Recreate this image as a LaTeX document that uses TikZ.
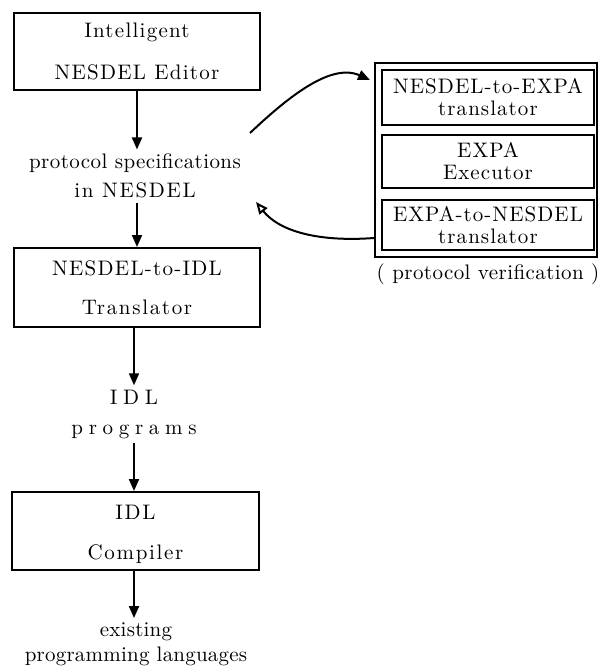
\documentclass[tikz,border=0pt]{standalone}
\usepackage{fontspec}
\setmainfont{lmroman10-regular.otf}
\usetikzlibrary{arrows.meta}
\newcommand\labfont[1]{\fontspec{lmroman10-regular.otf}[LetterSpace=#1]\fontsize{10.5}{13}\selectfont}
\begin{document}
\begin{tikzpicture}[x=0.5pt,y=-0.5pt,
  box/.style={draw, line width=1pt, inner sep=0pt, align=center},
  lab/.style={align=center, inner sep=2pt},
  arr/.style={line width=1pt, -{Triangle[length=6pt,width=5pt]}},
  oarr/.style={line width=1pt, -{Triangle[open,length=6pt,width=5pt]}},
]
\useasboundingbox (0,0) rectangle (598,666);

% left column
\node[box, minimum width=123pt, minimum height=38.5pt, font=\labfont{6}] (ed) at (137,51.5)
  {Intelligent\\[8pt]NESDEL Editor};
\node[lab, font=\labfont{2}] (spec) at (135,176)
  {protocol specifications\\[1.5pt]{\labfont{8}in NESDEL}};
\node[box, minimum width=123pt, minimum height=39.5pt, font=\labfont{8}] (tr) at (137,287.5)
  {{\labfont{6}NESDEL-to-IDL}\\[6.5pt]Translator};
\node[lab, font=\labfont{27}] (idl) at (134,414)
  {IDL\\[2pt]programs};
\node[box, minimum width=123.5pt, minimum height=39pt, font=\labfont{8}] (cp) at (135.5,531)
  {\mbox{}\\[-2pt]IDL\\[7pt]Compiler};
\node[lab, font=\labfont{1}] (ex) at (136,644)
  {existing\\[-0.5pt]programming languages};

% right group
\node[box, minimum width=111pt, minimum height=97pt] (ver) at (486,160) {};
\node[box, minimum width=106pt, minimum height=27.5pt, font={\labfont{5}\baselineskip=11pt}] (n2e) at (488,97.5)
  {NESDEL-to-EXPA\\translator};
\node[box, minimum width=106pt, minimum height=26.5pt, font={\labfont{5}\baselineskip=11pt}] (exe) at (488,161.5)
  {EXPA\\Executor};
\node[box, minimum width=106pt, minimum height=25pt, font={\labfont{5}\baselineskip=11pt}] (e2n) at (488,225)
  {EXPA-to-NESDEL\\translator};
\node[lab, font=\labfont{2}] (pv) at (488,274) {( protocol verification )};

% connectors
\draw[arr] (ed.south) -- (ed.south |- spec.north);
\draw[arr] (spec.south -| tr.north) -- (tr.north);
\draw[arr] ([xshift=-1.5pt]tr.south) -- ([xshift=-1.5pt]tr.south |- idl.north);
\draw[arr] ([xshift=-0.75pt]cp.north |- idl.south) -- ([xshift=-0.75pt]cp.north);
\draw[arr] ([xshift=-0.75pt]cp.south) -- ([xshift=-0.75pt]cp.south |- ex.north);

\coordinate (c1) at (250,133);
\coordinate (c3) at (256,202);
\draw[arr] (c1) .. controls (285,100) and (330,62) .. ([xshift=-2pt,yshift=40pt]ver.west);
\draw[oarr] ([yshift=-39pt]ver.west) .. controls (320,242) and (280,232) .. (c3);
\end{tikzpicture}
\end{document}
